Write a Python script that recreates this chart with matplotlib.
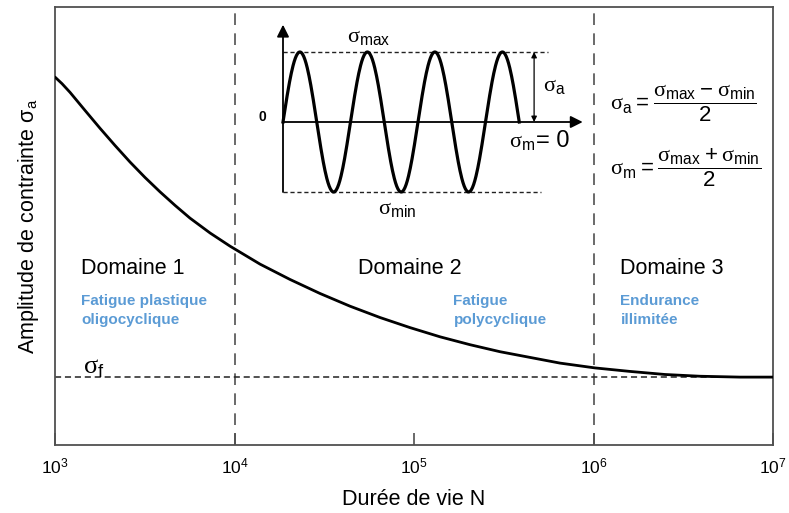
import numpy as np
import matplotlib
matplotlib.use("Agg")
import matplotlib.pyplot as plt

plt.rcParams['font.family'] = ['Liberation Sans', 'DejaVu Sans']
plt.rcParams['mathtext.fontset'] = 'custom'
plt.rcParams['mathtext.rm'] = 'Liberation Serif'
plt.rcParams['mathtext.default'] = 'regular'

# Wöhler curve (log10 N, relative amplitude)
log_n = [3.000, 3.039, 3.084, 3.167, 3.251, 3.334, 3.418, 3.501, 3.585, 3.669,
         3.752, 3.864, 3.975, 4.142, 4.309, 4.476, 4.643, 4.811, 4.978, 5.145,
         5.312, 5.479, 5.646, 5.813, 6.008, 6.203, 6.398, 6.593, 6.816, 7.000]
amplitude = [0.840, 0.825, 0.805, 0.764, 0.723, 0.684, 0.646, 0.611, 0.578, 0.547,
             0.518, 0.484, 0.454, 0.413, 0.378, 0.346, 0.317, 0.291, 0.268, 0.247,
             0.229, 0.213, 0.200, 0.187, 0.176, 0.168, 0.161, 0.157, 0.155, 0.155]
sigma_f = 0.155
domain_limits = [1e4, 1e6]
x_ticks = [1e3, 1e4, 1e5, 1e6, 1e7]
x_tick_labels = [r'$10^{3}$', r'$10^{4}$', r'$10^{5}$', r'$10^{6}$', r'$10^{7}$']

domain_titles = ['Domaine 1', 'Domaine 2', 'Domaine 3']
domain_notes = ['Fatigue plastique\noligocyclique', 'Fatigue\npolycyclique', 'Endurance\nillimitée']

# inset signal: 3.5 cycles of a pure sine
n_cycles = 3.5
sig_amp = 1.0

blue = '#5b9bd5'
grey = '#505050'

fig = plt.figure(figsize=(7.89, 5.13), dpi=100)
ax = fig.add_axes([55 / 789, 1 - 445 / 513, 718 / 789, 438 / 513])

n_values = [10 ** v for v in log_n]
ax.plot(n_values, amplitude, color='black', lw=2.0, solid_capstyle='round', zorder=3)
ax.axhline(sigma_f, color='#222222', lw=1.1, ls=(0, (4, 2.5)), zorder=2)
for lim in domain_limits:
    ax.axvline(lim, color=grey, lw=1.2, ls=(0, (7, 5)), zorder=1)

ax.set_xscale('log')
ax.set_xlim(1e3, 1e7)
ax.set_ylim(0, 1)
ax.set_xticks(x_ticks)
ax.set_xticklabels(x_tick_labels, fontsize=12.5)
ax.minorticks_off()
ax.tick_params(axis='x', direction='in', length=9, width=1.2, color=grey, pad=8)
ax.set_yticks([])
for sp in ax.spines.values():
    sp.set_color(grey)
    sp.set_linewidth(1.3)

ax.set_xlabel('Durée de vie N', fontsize=15.5, labelpad=9)
ax.set_ylabel(r'Amplitude de contrainte σ$_{a}$', fontsize=15.5, labelpad=10)

# domain titles and notes
title_x = [1.4e3, 10 ** 4.69, 10 ** 6.15]
note_x = [1.4e3, 10 ** 5.22, 10 ** 6.15]
for tx, nx, title, note in zip(title_x, note_x, domain_titles, domain_notes):
    ax.text(tx, 0.402, title, fontsize=15.5, ha='left', va='center')
    ax.text(nx, 0.308, note, fontsize=11, fontweight='bold', color=blue,
            ha='left', va='center', linespacing=1.45)

ax.text(1.43e3, sigma_f + 0.02, r'$\mathrm{\sigma}_{f}$', fontsize=19, ha='left', va='center')

# formulas
fig.text(610 / 789, 1 - 103 / 513,
         r'$\mathrm{\sigma}_{a} = \dfrac{\mathrm{\sigma}_{max} - \mathrm{\sigma}_{min}}{2}$',
         fontsize=16, ha='left', va='center')
fig.text(610 / 789, 1 - 168 / 513,
         r'$\mathrm{\sigma}_{m} = \dfrac{\mathrm{\sigma}_{max} + \mathrm{\sigma}_{min}}{2}$',
         fontsize=16, ha='left', va='center')

# inset schematic of the loading signal
px_unit_x = 67.5
px_unit_y = 70.0
inset_left = 283 - 0.4 * px_unit_x
inset_top = 122 - 1.5 * px_unit_y
ins = fig.add_axes([inset_left / 789, 1 - (inset_top + 3 * px_unit_y) / 513,
                    5 * px_unit_x / 789, 3 * px_unit_y / 513])
ins.set_xlim(-0.4, 4.6)
ins.set_ylim(-1.5, 1.5)
ins.axis('off')
ins.patch.set_alpha(0)

t = np.linspace(0, n_cycles, 400)
ins.plot(t, sig_amp * np.sin(2 * np.pi * t), color='black', lw=2.3, zorder=3)
ins.plot([0, 3.93], [sig_amp, sig_amp], color='#222222', lw=1.0, ls=(0, (3, 2)))
ins.plot([0, 3.82], [-sig_amp, -sig_amp], color='#222222', lw=1.0, ls=(0, (3, 2)))
ins.annotate('', xy=(4.44, 0), xytext=(0, 0),
             arrowprops=dict(arrowstyle='-|>', color='black', lw=1.3,
                             mutation_scale=18, shrinkA=0, shrinkB=0))
ins.annotate('', xy=(0, 1.39), xytext=(0, -sig_amp),
             arrowprops=dict(arrowstyle='-|>', color='black', lw=1.3,
                             mutation_scale=18, shrinkA=0, shrinkB=0))
ins.annotate('', xy=(3.72, sig_amp), xytext=(3.72, 0),
             arrowprops=dict(arrowstyle='<|-|>', color='black', lw=0.9,
                             mutation_scale=8, shrinkA=0, shrinkB=0))

ins.text(-0.3, 0.07, '0', fontsize=10, fontweight='bold', ha='center', va='center')
ins.text(0.95, 1.2, r'$\mathrm{\sigma}_{max}$', fontsize=16, ha='left', va='center')
ins.text(3.85, 0.5, r'$\mathrm{\sigma}_{a}$', fontsize=16, ha='left', va='center')
ins.text(3.35, -0.3, r'$\mathrm{\sigma}_{m}$', fontsize=16, ha='left', va='center')
ins.text(3.75, -0.27, '= 0', fontsize=17, ha='left', va='center')
ins.text(1.4, -1.25, r'$\mathrm{\sigma}_{min}$', fontsize=16, ha='left', va='center')

fig.savefig('out.png', dpi=100)
